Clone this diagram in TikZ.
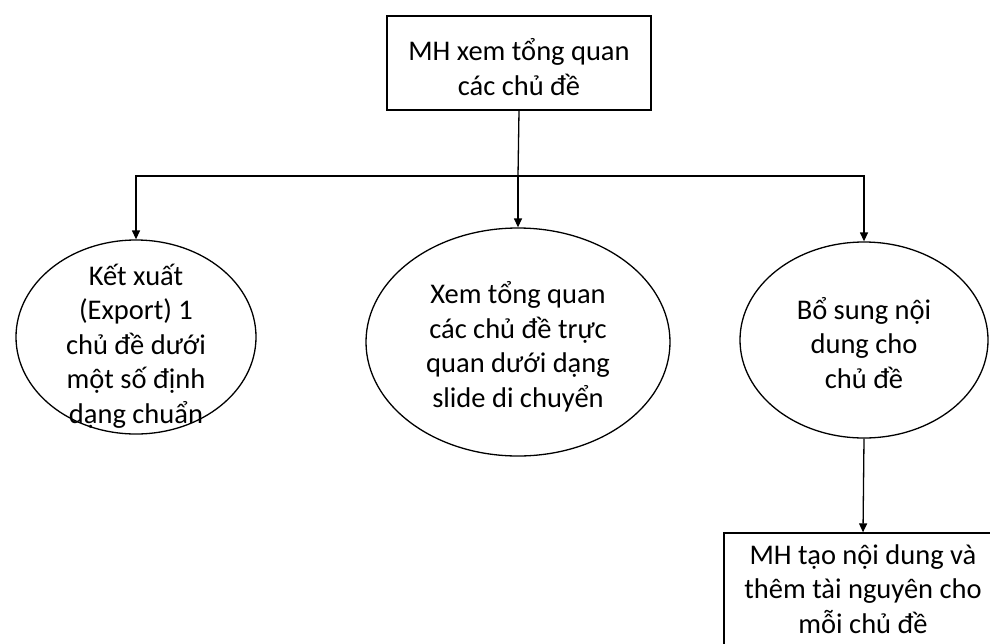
\documentclass[tikz,border=0pt]{standalone}
\usepackage{fontspec}
\setmainfont{Carlito}
\usetikzlibrary{shapes.geometric,arrows.meta}
\begin{document}
\begin{tikzpicture}[x=1pt,y=-1pt,
  every node/.style={font=\fontsize{28.5}{34.5}\selectfont, align=center, inner sep=0pt},
  boxnode/.style={draw, line width=1.3pt, rectangle},
  ovalnode/.style={draw, line width=1.3pt, ellipse},
  link/.style={line width=1.3pt},
  arrowlink/.style={link, -{Triangle[length=9pt,width=8pt]}}]
  \clip (0,0) rectangle (990,643);
  \fill[white] (0,0) rectangle (990,643);

  % top box
  \node[boxnode, minimum width=264pt, minimum height=94pt] (top) at (519,63) {};
  \node (toptext) at (519,67) {MH xem tổng quan\\các chủ đề};

  % three ellipses, with their texts set as separate nodes
  \node[ovalnode, minimum width=240pt, minimum height=194pt] (left) at (136,337) {};
  \node (lefttext) at (136,346)
    {Kết xuất\\(Export) 1\\chủ đề dưới\\một số định\\dạng chuẩn};
  \node[ovalnode, minimum width=304pt, minimum height=228pt] (mid) at (518,342) {};
  \node (midtext) at (518,347)
    {Xem tổng quan\\các chủ đề trực\\quan dưới dạng\\slide di chuyển};
  \node[ovalnode, minimum width=248pt, minimum height=196pt] (right) at (864,340) {};
  \node (righttext) at (864,343) {Bổ sung nội\\dung cho\\chủ đề};

  % bottom box, running past the right and lower edges
  \node[boxnode, minimum width=278pt, minimum height=130pt] (bottom) at (863,598) {};
  \node (bottomtext) at (863,589)
    {MH tạo nội dung và\\thêm tài nguyên cho\\mỗi chủ đề};

  % connectors
  \coordinate (bus) at (518,176);
  \draw[link] (top.south) -- (bus);
  \draw[arrowlink] (bus) -| (left.north);
  \draw[arrowlink] (bus) -| (right.north);
  \draw[arrowlink] (bus) -- (mid.north);
  \draw[arrowlink] (right.south) -- (bottom.north);
\end{tikzpicture}
\end{document}
